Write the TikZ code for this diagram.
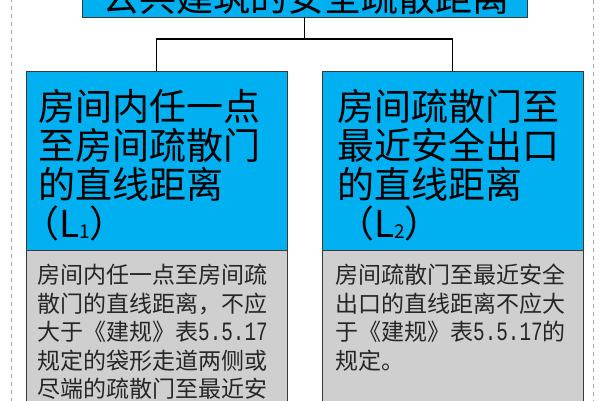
\documentclass[tikz,border=0pt]{standalone}
\usepackage{fontspec}
\newfontfamily\cjk{Noto Sans CJK SC}
\newfontfamily\mono{Liberation Mono}[Scale=1.15,FakeStretch=0.73]
\definecolor{boxblue}{HTML}{00B0F0}
\definecolor{boxgray}{HTML}{CFCFCF}
\definecolor{edge}{HTML}{3A3A3A}
\newcommand{\subnum}[1]{{\fontsize{19}{19}\selectfont\raisebox{-1pt}{#1}}}
\begin{document}
\begin{tikzpicture}[x=1pt,y=-1pt,
 bluebox/.style={draw=edge, line width=0.8pt, fill=boxblue, inner sep=0, rectangle},
 graybox/.style={draw=edge, line width=0.8pt, fill=boxgray, inner sep=0, rectangle},
 bigtext/.style={font=\cjk\fontsize{37}{39}\selectfont, inner sep=0, anchor=base west, text=black},
 smalltext/.style={font=\cjk\fontsize{23}{29}\selectfont, inner sep=0, anchor=base west, text=black!85},
 link/.style={line width=1.2pt, black},
 frameline/.style={draw=gray!70, line width=0.8pt, dash pattern=on 4pt off 4pt}]
\useasboundingbox (0,0) rectangle (600,400);
\clip (0,0) rectangle (600,400);
\fill[white] (0,0) rectangle (600,400);
\draw[frameline] (11,-10) rectangle (593,410);

% title
\node[bluebox, minimum width=445pt, minimum height=60pt] (title) at (304.5,-13) {};
\node[bigtext, anchor=base] (titletext) at (305.5,11) {公共建筑的安全疏散距离};

% boxes
\node[graybox, minimum width=261pt, minimum height=180pt] (lg) at (156.5,340) {};
\node[bluebox, minimum width=261pt, minimum height=179pt] (lb) at (156.5,160.5) {};
\node[graybox, minimum width=261pt, minimum height=180pt] (rg) at (452.5,340) {};
\node[bluebox, minimum width=261pt, minimum height=179pt] (rb) at (452.5,160.5) {};

% connectors
\coordinate (bus) at (304.5,39);
\draw[link] (title.south) -- (bus);
\draw[link] (lb.north) |- (bus) -| (rb.north);

% left blue text
\node[bigtext] (la) at (38,120) {房间内任一点};
\node[bigtext] (lbb) at (38,159) {至房间疏散门};
\node[bigtext] (lc) at (38,198) {的直线距离};
\node[bigtext] (ld) at (22,237) {（L\subnum{1}）};

% right blue text
\node[bigtext] (ra) at (337,120) {房间疏散门至};
\node[bigtext] (rbb) at (337,159) {最近安全出口};
\node[bigtext] (rc) at (337,198) {的直线距离};
\node[bigtext] (rd) at (337,237) {（L\subnum{2}）};

% left gray text
\node[smalltext] (g1) at (37,283) {房间内任一点至房间疏};
\node[smalltext] (g2) at (37,312) {散门的直线距离，不应};
\node[smalltext] (g3) at (37,340) {大于《建规》表{\mono 5.5.17}};
\node[smalltext] (g4) at (37,369) {规定的袋形走道两侧或};
\node[smalltext] (g5) at (37,397) {尽端的疏散门至最近安};

% right gray text
\node[smalltext] (h1) at (335,283) {房间疏散门至最近安全};
\node[smalltext] (h2) at (335,312) {出口的直线距离不应大};
\node[smalltext] (h3) at (335,340) {于《建规》表{\mono 5.5.17}的};
\node[smalltext] (h4) at (335,369) {规定。};
\end{tikzpicture}
\end{document}
